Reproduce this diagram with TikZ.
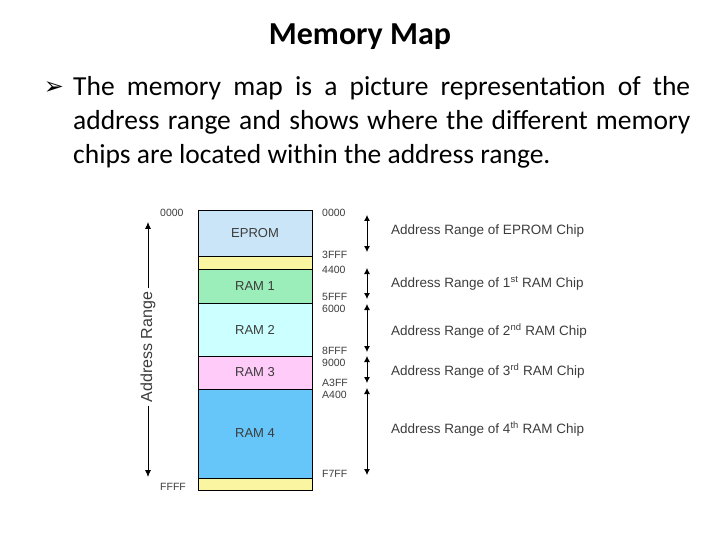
\documentclass[tikz,border=0pt]{standalone}
\usepackage{fontspec}
\setmainfont{Carlito}
\newfontfamily\arialfont{Liberation Sans}
\newfontfamily\dingfont{DejaVu Sans}
\usetikzlibrary{arrows.meta,positioning}
\definecolor{eprombg}{RGB}{202,229,248}
\definecolor{gapyel}{RGB}{250,245,160}
\definecolor{ram1bg}{RGB}{155,238,185}
\definecolor{ram2bg}{RGB}{204,255,255}
\definecolor{ram3bg}{RGB}{255,204,250}
\definecolor{ram4bg}{RGB}{102,198,250}
\definecolor{labgray}{RGB}{60,60,60}
\tikzset{
  memblk/.style={rectangle,draw=black,line width=0.8pt,fill=#1,minimum width=114pt,
    inner sep=0pt,outer sep=0pt,font=\arialfont\fontsize{13}{15}\selectfont,text=labgray},
  addr/.style={anchor=west,inner sep=0pt,font=\arialfont\fontsize{10.5}{12}\selectfont,text=labgray},
  rngtext/.style={anchor=west,inner sep=0pt,font=\arialfont\fontsize{13.5}{16}\selectfont,text=labgray},
  rngarr/.style={{Latex[length=6pt,width=6pt]}-{Latex[length=6pt,width=6pt]},line width=0.8pt},
  axarr/.style={-{Latex[length=7pt,width=6pt]},line width=0.8pt}
}

\begin{document}
\begin{tikzpicture}[x=1pt,y=-1pt]
  \useasboundingbox (0,0) rectangle (720,540);

  %% Heading and text
  \node[font=\bfseries\fontsize{32}{38}\selectfont] (title) at (360,37) {Memory Map};
  \node[font=\dingfont\fontsize{24}{28}\selectfont] (bullet) at (54,88) {➢};
  \node[anchor=west,inner sep=0pt,text width=617pt,align=justify,
        font=\fontsize{27.5}{34}\selectfont] (body) at (73,122)
    {The memory map is a picture representation of the\linebreak
     address range and shows where the different memory\linebreak
     chips are located within the address range.};

  %% Memory blocks
  \node[memblk=eprombg,minimum height=46pt] (eprom) at (255,233) {EPROM};
  \node[memblk=gapyel,minimum height=13pt,below=0pt of eprom] (gap1) {};
  \node[memblk=ram1bg,minimum height=34pt,below=0pt of gap1] (ram1) {RAM 1};
  \node[memblk=ram2bg,minimum height=53pt,below=0pt of ram1] (ram2) {RAM 2};
  \node[memblk=ram3bg,minimum height=33pt,below=0pt of ram2] (ram3) {RAM 3};
  \node[memblk=ram4bg,minimum height=89pt,below=0pt of ram3] (ram4) {RAM 4};
  \node[memblk=gapyel,minimum height=12pt,below=0pt of ram4] (gap2) {};

  %% Addresses
  \node[addr] (l0000) at (160,213) {0000};
  \node[addr] (lFFFF) at (160,487) {FFFF};
  \foreach \lbl/\y in {0000/213,3FFF/255,4400/270,5FFF/297,6000/309,
                       8FFF/351,9000/363,A3FF/383,A400/395,F7FF/474}
    \node[addr] (r\lbl) at (322,\y) {\lbl};

  %% Whole range
  \node[rotate=90,font=\arialfont\fontsize{16}{18}\selectfont,text=labgray] (axlbl) at (148,347) {Address Range};
  \coordinate (axtop) at (148,222);
  \coordinate (axbot) at (148,477);
  \draw[axarr] (axlbl.east) -- (axtop);
  \draw[axarr] (axlbl.west) -- (axbot);

  %% Chip ranges
  \foreach \n/\ya/\yb in {a/215/252,b/268/299,c/304/352,d/356/383,e/388/475} {
    \coordinate (t\n) at (367,\ya);
    \coordinate (b\n) at (367,\yb);
    \draw[rngarr] (t\n) -- (b\n);
  }
  \node[rngtext] (txeprom) at (391,231) {Address Range of EPROM Chip};
  \node[rngtext] (txram1) at (391,283) {Address Range of 1\textsuperscript{st} RAM Chip};
  \node[rngtext] (txram2) at (391,331) {Address Range of 2\textsuperscript{nd} RAM Chip};
  \node[rngtext] (txram3) at (391,371) {Address Range of 3\textsuperscript{rd} RAM Chip};
  \node[rngtext] (txram4) at (391,429) {Address Range of 4\textsuperscript{th} RAM Chip};
\end{tikzpicture}
\end{document}
